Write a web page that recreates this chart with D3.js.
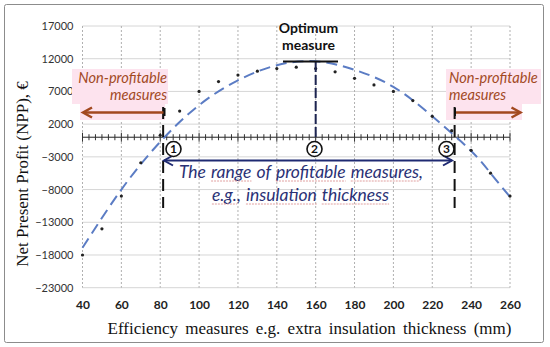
<!DOCTYPE html>
<html>
<head>
<meta charset="utf-8">
<script src="https://cdn.jsdelivr.net/npm/d3@7/dist/d3.min.js"></script>
<style>
  body { margin: 0; background: #fff; }
  svg { display: block; }
</style>
</head>
<body>
<script>
// measured dots (NPP per extra insulation thickness)
var thickness = [40, 50, 60, 70, 80, 90, 100, 110, 120, 130, 140, 150, 160, 170, 180, 190, 200, 210, 220, 230, 240, 250, 260];
var npp = [-18000, -14000, -9000, -3900, 300, 4000, 7000, 8500, 9500, 10100, 10500, 10700, 10500, 10000, 9000, 8000, 7000, 5600, 3200, 1000, -2000, -5500, -9000];

// dashed trend curve
var trendX = [40, 60, 80, 100, 120, 140, 160, 180, 200, 220, 240, 250, 260];
var trendY = [-16900, -8000, -700, 4900, 8700, 11000, 11600, 10300, 7700, 3200, -2100, -5500, -9100];

var xTicks = [40, 60, 80, 100, 120, 140, 160, 180, 200, 220, 240, 260];
var yTicks = [-23000, -18000, -13000, -8000, -3000, 2000, 7000, 12000, 17000];

// marked points: break-even 1, optimum 2, break-even 3
var breakEven = [81.5, 231.5];
var optimumX = 160;

var W = 550, H = 347;
var plotL = 82.5, plotR = 510, plotT = 26, plotB = 287.7;

var svg = d3.select('body').append('svg').attr('width', W).attr('height', H);

svg.append('rect').attr('x', 4.5).attr('y', 4.5).attr('width', 539).attr('height', 338)
   .attr('rx', 2).attr('fill', '#fff').attr('stroke', '#8c8c8c').attr('stroke-width', 1);

var x = d3.scaleLinear().domain([40, 260]).range([plotL, plotR]);
var y = d3.scaleLinear().domain([-23000, 17000]).range([plotB, plotT]);

// grid
svg.append('g').selectAll('line').data(yTicks).enter().append('line')
   .attr('x1', plotL).attr('x2', plotR)
   .attr('y1', function (d) { return y(d); }).attr('y2', function (d) { return y(d); })
   .attr('stroke', '#d6d6d6').attr('stroke-width', 1);

svg.append('g').selectAll('line').data(xTicks).enter().append('line')
   .attr('x1', function (d) { return x(d); }).attr('x2', function (d) { return x(d); })
   .attr('y1', plotT).attr('y2', plotB)
   .attr('stroke', '#b0b0b0').attr('stroke-width', 1).attr('stroke-dasharray', '2,2');

// axes labels
var yAxis = svg.append('g').attr('transform', 'translate(' + plotL + ',0)')
   .call(d3.axisLeft(y).tickValues(yTicks).tickSize(0).tickPadding(9).tickFormat(d3.format('d')));
yAxis.select('.domain').remove();
yAxis.selectAll('text').attr('font-family', 'Lato, sans-serif').attr('font-size', 11).attr('fill', '#333');

var xAxis = svg.append('g').attr('transform', 'translate(0,' + plotB + ')')
   .call(d3.axisBottom(x).tickValues(xTicks).tickSize(0).tickPadding(13));
xAxis.select('.domain').remove();
xAxis.selectAll('text').attr('font-family', 'Lato, sans-serif').attr('font-size', 12)
   .attr('font-weight', 'bold').attr('fill', '#222');

// zero line with ticks
var y0 = y(0);
svg.append('line').attr('x1', plotL).attr('x2', plotR).attr('y1', y0).attr('y2', y0)
   .attr('stroke', '#222').attr('stroke-width', 1);
var minor = d3.range(40, 260.001, 20 / 6);
svg.append('g').selectAll('line').data(minor).enter().append('line')
   .attr('x1', function (d) { return x(d); }).attr('x2', function (d) { return x(d); })
   .attr('y1', function (d, i) { return y0 - (i % 6 === 0 ? 4.5 : 3); })
   .attr('y2', function (d, i) { return y0 + (i % 6 === 0 ? 4.5 : 3); })
   .attr('stroke', '#333').attr('stroke-width', 1);

// trend curve
var trend = trendX.map(function (d, i) { return [d, trendY[i]]; });
svg.append('path').datum(trend)
   .attr('d', d3.line().x(function (d) { return x(d[0]); }).y(function (d) { return y(d[1]); }).curve(d3.curveNatural))
   .attr('fill', 'none').attr('stroke', '#5b7cc4').attr('stroke-width', 2).attr('stroke-dasharray', '11,6');

// dots
svg.append('g').selectAll('circle').data(thickness).enter().append('circle')
   .attr('cx', function (d) { return x(d); })
   .attr('cy', function (d, i) { return y(npp[i]); })
   .attr('r', 1.6).attr('fill', '#222');

// pink highlight boxes behind "Non-profitable measures"
svg.append('rect').attr('x', 72).attr('y', 69).attr('width', 96).attr('height', 35).attr('fill', '#fde3ee');
svg.append('rect').attr('x', 80).attr('y', 104).attr('width', 85).attr('height', 16).attr('fill', '#fde3ee');
svg.append('rect').attr('x', 446).attr('y', 69).attr('width', 95).attr('height', 35).attr('fill', '#fde3ee');
svg.append('rect').attr('x', 446).attr('y', 104).attr('width', 76).attr('height', 16).attr('fill', '#fde3ee');

// vertical dashed markers
breakEven.forEach(function (b) {
  svg.append('line').attr('x1', x(b)).attr('x2', x(b)).attr('y1', 107).attr('y2', 208)
     .attr('stroke', '#111').attr('stroke-width', 2).attr('stroke-dasharray', '12,6');
});
svg.append('line').attr('x1', x(optimumX)).attr('x2', x(optimumX)).attr('y1', 62).attr('y2', y0)
   .attr('stroke', '#1c2450').attr('stroke-width', 2).attr('stroke-dasharray', '10,3');
svg.append('line').attr('x1', 283).attr('x2', 338).attr('y1', 61.5).attr('y2', 61.5)
   .attr('stroke', '#111').attr('stroke-width', 2);

svg.append('text').attr('x', 308.5).attr('y', 33).attr('text-anchor', 'middle')
   .attr('font-family', 'Lato, sans-serif').attr('font-weight', 'bold').attr('font-size', 14).attr('fill', '#111')
   .text('Optimum');
svg.append('text').attr('x', 308.5).attr('y', 50).attr('text-anchor', 'middle')
   .attr('font-family', 'Lato, sans-serif').attr('font-weight', 'bold').attr('font-size', 14).attr('fill', '#111')
   .text('measure');

// arrow helper
function arrow(x1, x2, yy, color, w) {
  var dir = x2 > x1 ? 1 : -1;
  svg.append('line').attr('x1', x1).attr('x2', x2 - dir * 1).attr('y1', yy).attr('y2', yy)
     .attr('stroke', color).attr('stroke-width', w);
  svg.append('path').attr('d', 'M' + (x2 - dir * 9) + ',' + (yy - 5) + 'L' + x2 + ',' + yy + 'L' + (x2 - dir * 9) + ',' + (yy + 5))
     .attr('fill', 'none').attr('stroke', color).attr('stroke-width', w).attr('stroke-linejoin', 'miter');
}

var brown = '#a2491f';
arrow(165, 83, 112.5, brown, 2.5);
arrow(455, 520.5, 112.5, brown, 2.5);
svg.append('line').attr('x1', 164.5).attr('x2', 164.5).attr('y1', 108).attr('y2', 116).attr('stroke', '#111').attr('stroke-width', 2);
svg.append('line').attr('x1', 455).attr('x2', 455).attr('y1', 108).attr('y2', 116).attr('stroke', '#111').attr('stroke-width', 2);

// navy double arrow
var navy = '#1f2a72';
svg.append('line').attr('x1', 164).attr('x2', 452).attr('y1', 160.5).attr('y2', 160.5).attr('stroke', navy).attr('stroke-width', 2);
svg.append('path').attr('d', 'M173,155.5L164,160.5L173,165.5').attr('fill', 'none').attr('stroke', navy).attr('stroke-width', 2);
svg.append('path').attr('d', 'M443,155.5L452,160.5L443,165.5').attr('fill', 'none').attr('stroke', navy).attr('stroke-width', 2);

// non-profitable labels
function npLabel(xx, anchor) {
  ['Non-profitable', 'measures'].forEach(function (t, i) {
    svg.append('text').attr('x', xx).attr('y', 83 + i * 16.5).attr('text-anchor', anchor)
       .attr('font-family', 'Lato, sans-serif').attr('font-style', 'italic').attr('font-size', 14.6)
       .attr('fill', brown).text(t);
  });
}
npLabel(167, 'end');
npLabel(449, 'start');

// circled numbers
var marks = [[173.5, '1'], [314.5, '2'], [446.5, '3']];
marks.forEach(function (m) {
  svg.append('circle').attr('cx', m[0]).attr('cy', 149).attr('r', 7.5)
     .attr('fill', '#fff').attr('stroke', '#111').attr('stroke-width', 1.6);
  svg.append('text').attr('x', m[0]).attr('y', 153.3).attr('text-anchor', 'middle')
     .attr('font-family', 'Lato, sans-serif').attr('font-weight', 'bold').attr('font-size', 12).attr('fill', '#111').text(m[1]);
});

// range text, with the faint spell-check underlines of the original
function rangeLine(t, xx, yy, words) {
  var el = svg.append('text').attr('x', xx).attr('y', yy).attr('text-anchor', 'middle')
     .attr('font-family', 'Lato, sans-serif').attr('font-style', 'italic').attr('font-size', 17.5).attr('fill', '#2a3175')
     .attr('word-spacing', 1)
     .text(t);
  var node = el.node();
  words.forEach(function (w) {
    var i = t.indexOf(w);
    if (i < 0 || i + w.length > node.getNumberOfChars()) return;
    var a = node.getStartPositionOfChar(i).x, b = node.getEndPositionOfChar(i + w.length - 1).x;
    svg.append('line').attr('x1', a).attr('x2', b).attr('y1', yy + 3).attr('y2', yy + 3)
       .attr('stroke', '#e0a0a0').attr('stroke-width', 1).attr('stroke-dasharray', '2,1');
  });
}
rangeLine('The range of profitable measures,', 301, 178, ['range', 'profitable', 'measures']);
rangeLine('e.g., insulation thickness', 300.5, 201, ['e.g.', 'insulation', 'thickness']);

// axis titles
svg.append('text').attr('x', 309.5).attr('y', 334).attr('text-anchor', 'middle')
   .attr('font-family', '"Liberation Serif", "Times New Roman", serif').attr('font-size', 17).attr('fill', '#111')
   .attr('word-spacing', 3)
   .text('Efficiency measures e.g. extra insulation thickness (mm)');
svg.append('text').attr('transform', 'translate(28,174) rotate(-90)').attr('text-anchor', 'middle')
   .attr('font-family', '"Liberation Serif", "Times New Roman", serif').attr('font-size', 17).attr('fill', '#111')
   .text('Net Present Profit (NPP), €');
</script>
</body>
</html>
